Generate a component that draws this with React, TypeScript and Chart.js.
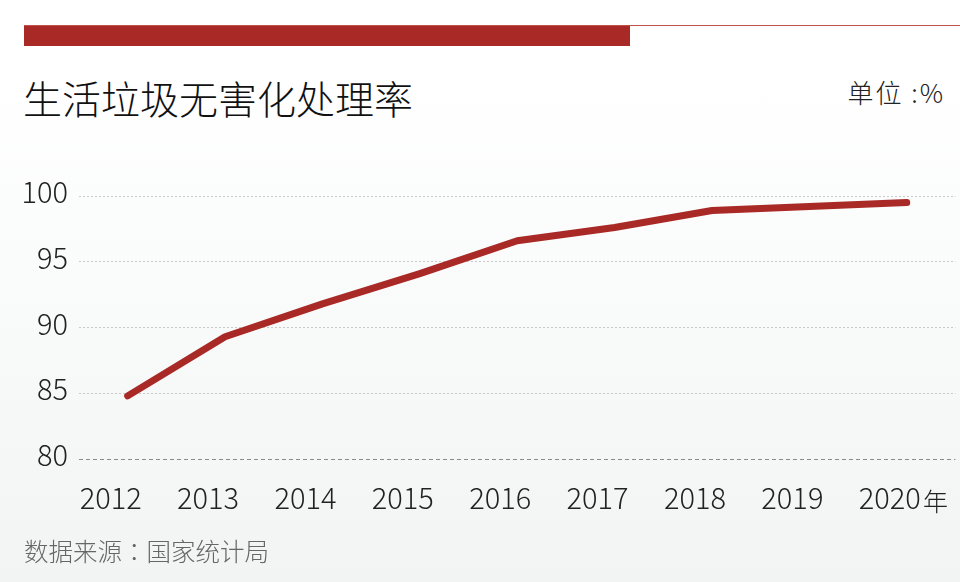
import React, { useEffect, useRef } from "react";
import { Chart, registerables } from "chart.js";

Chart.register(...registerables);

const years = ["2012", "2013", "2014", "2015", "2016", "2017", "2018", "2019", "2020"];
const rates = [84.8, 89.3, 91.8, 94.1, 96.6, 97.6, 98.9, 99.2, 99.5];
const yTicks = [80, 85, 90, 95, 100];

const title = "生活垃圾无害化处理率";
const unitText = "单位 :%";
const yearSuffix = "年";
const sourceLabel = "数据来源";
const sourceColon = "：";
const sourceName = "国家统计局";

const RED = "#a82925";
const NUM_FONT = "'Noto Sans CJK SC', 'Noto Sans', sans-serif";
const CJK_FONT = "'Noto Sans CJK SC', 'Noto Sans', sans-serif";

export default function App() {
  const canvasRef = useRef<HTMLCanvasElement | null>(null);

  useEffect(() => {
    const canvas = canvasRef.current;
    if (!canvas) return;
    const chart = new Chart(canvas, {
      type: "line",
      data: {
        labels: years,
        datasets: [
          {
            data: rates,
            borderColor: RED,
            backgroundColor: RED,
            borderWidth: 7,
            borderCapStyle: "round",
            borderJoinStyle: "round",
            pointRadius: 0,
            pointHoverRadius: 0,
            tension: 0,
            fill: false,
            clip: false as any,
          },
        ],
      },
      options: {
        animation: false,
        responsive: false,
        maintainAspectRatio: false,
        events: [],
        layout: { padding: { top: 46, right: 4, left: 0, bottom: 0 } },
        plugins: {
          legend: { display: false },
          tooltip: { enabled: false },
          title: { display: false },
        },
        scales: {
          x: {
            type: "category",
            offset: true,
            grid: { display: false, drawTicks: false },
            border: { display: false },
            ticks: {
              color: "#222",
              font: { family: NUM_FONT, size: 29, weight: "300" as any },
              padding: 22,
              labelOffset: -17,
              maxRotation: 0,
              autoSkip: false,
            },
            afterFit: (scale: any) => {
              scale.height = 91;
            },
          },
          y: {
            type: "linear",
            min: yTicks[0],
            max: yTicks[yTicks.length - 1],
            afterBuildTicks: (scale: any) => {
              scale.ticks = yTicks.map((v) => ({ value: v }));
            },
            grid: {
              drawTicks: false,
              lineWidth: 1,
              color: (ctx: any) => (ctx.tick && ctx.tick.value === 80 ? "#8a8a8a" : "#c9c9c9"),
            },
            border: {
              display: false,
              dash: (ctx: any) => (ctx.tick && ctx.tick.value === 80 ? [4, 3] : [2, 2]),
            },
            ticks: {
              color: "#222",
              font: { family: NUM_FONT, size: 29, weight: "300" as any },
              padding: 11,
              labelOffset: -4,
            },
            afterFit: (scale: any) => {
              scale.width = 79;
            },
          },
        },
      },
    });
    return () => {
      chart.destroy();
    };
  }, []);

  return (
    <div
      style={{
        position: "fixed",
        left: 0,
        top: 0,
        width: 960,
        height: 582,
        overflow: "hidden",
        background: "linear-gradient(to bottom, #ffffff 0%, #ffffff 14%, #f2f4f4 100%)",
        fontFamily: CJK_FONT,
      }}
    >
      <div style={{ position: "absolute", left: 24, top: 25, width: 936, height: 1, background: "#c0504b" }} />
      <div style={{ position: "absolute", left: 24, top: 26, width: 606, height: 20, background: RED }} />
      <div
        style={{
          position: "absolute",
          left: 23,
          top: 72,
          fontSize: 39,
          fontWeight: 300,
          color: "#111",
          lineHeight: "50px",
          whiteSpace: "nowrap",
        }}
      >
        {title}
      </div>
      <div
        style={{
          position: "absolute",
          right: 15,
          top: 75,
          fontSize: 26,
          fontWeight: 300,
          letterSpacing: 2,
          color: "#222",
          lineHeight: "34px",
          whiteSpace: "nowrap",
        }}
      >
        {unitText}
      </div>
      <canvas
        ref={canvasRef}
        width={960}
        height={400}
        style={{ position: "absolute", left: 0, top: 150, width: 960, height: 400 }}
      />
      <div
        style={{
          position: "absolute",
          left: 923,
          top: 483,
          fontSize: 25,
          fontWeight: 300,
          color: "#222",
          lineHeight: "34px",
          whiteSpace: "nowrap",
        }}
      >
        {yearSuffix}
      </div>
      <div
        style={{
          position: "absolute",
          left: 24,
          top: 535,
          fontSize: 24.5,
          fontWeight: 300,
          color: "#666",
          lineHeight: "32px",
          whiteSpace: "nowrap",
        }}
      >
        {sourceLabel}
        <span style={{ fontFamily: "'Noto Sans CJK TC', 'Noto Sans CJK SC', sans-serif" }}>{sourceColon}</span>
        {sourceName}
      </div>
    </div>
  );
}
